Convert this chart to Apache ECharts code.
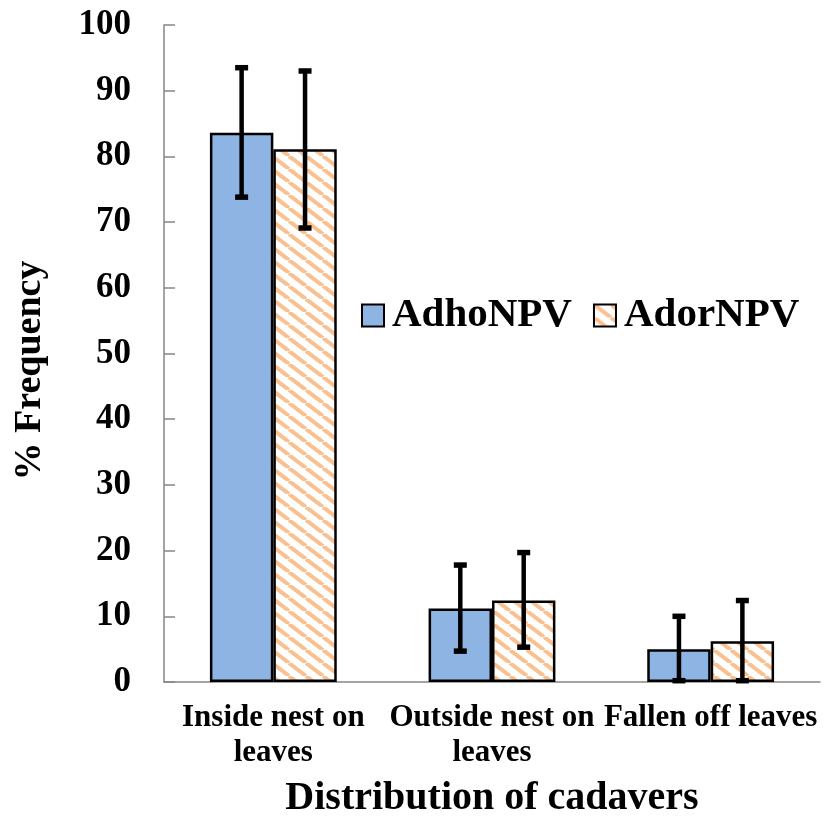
<!DOCTYPE html>
<html>
<head>
<meta charset="utf-8">
<script src="https://cdn.jsdelivr.net/npm/echarts@6/dist/echarts.min.js"></script>
<style>
  html, body { margin: 0; padding: 0; background: #fff; }
  #chart { width: 831px; height: 820px; }
</style>
</head>
<body>
<div id="chart"></div>
<script>
// 数据
var categories = ['Inside nest on\nleaves', 'Outside nest on\nleaves', 'Fallen off leaves'];
var adhoValues = [83.6, 11.2, 5.0];
var adhoLow = [73.8, 4.7, 0.2];
var adhoHigh = [93.5, 17.8, 10.0];
var adorValues = [81.1, 12.4, 6.2];
var adorLow = [69.1, 5.3, 0.2];
var adorHigh = [93.0, 19.7, 12.4];

var FONT = 'Liberation Serif';
var GAP = 0.42;

// 斜线填充
function makeHatch() {
  var c = document.createElement('canvas');
  var w = 17, h = 13;
  c.width = w; c.height = h;
  var ctx = c.getContext('2d');
  ctx.fillStyle = '#ffffff';
  ctx.fillRect(0, 0, w, h);
  ctx.strokeStyle = '#FAC090';
  ctx.lineWidth = 4;
  for (var k = -w; k <= w; k += w) {
    ctx.beginPath();
    ctx.moveTo(k, 0);
    ctx.lineTo(k + w, h);
    ctx.stroke();
  }
  return c;
}

function errData(low, high) {
  return low.map(function (v, i) { return [i, v, high[i]]; });
}

function errRender(side) {
  return function (params, api) {
    var band = api.size([1, 0])[0];
    var barW = band * (1 - GAP) / 2;
    var x = api.coord([api.value(0), 0])[0] + side * barW / 2;
    var lo = api.coord([api.value(0), api.value(1)])[1];
    var hi = api.coord([api.value(0), api.value(2)])[1];
    var cap = 6.5;
    var st = { stroke: '#000', lineWidth: 4.5 };
    return {
      type: 'group',
      children: [
        { type: 'line', shape: { x1: x, y1: lo, x2: x, y2: hi }, style: st },
        { type: 'line', shape: { x1: x - cap, y1: lo, x2: x + cap, y2: lo }, style: { stroke: '#000', lineWidth: 5.5 } },
        { type: 'line', shape: { x1: x - cap, y1: hi, x2: x + cap, y2: hi }, style: { stroke: '#000', lineWidth: 5.5 } }
      ]
    };
  };
}

var chart = echarts.init(document.getElementById('chart'), null, { renderer: 'canvas' });

var option = {
  backgroundColor: '#ffffff',
  animation: false,
  textStyle: { fontFamily: FONT },
  grid: { left: 164, right: 11, top: 25, bottom: 138, outerBoundsMode: 'none' },
  legend: {
    left: 356,
    top: 290,
    icon: 'rect',
    itemWidth: 22,
    itemHeight: 22,
    itemGap: 21,
    textStyle: { fontFamily: FONT, fontWeight: 'bold', fontSize: 41, color: '#000', padding: [0, 0, 0, 3] },
    data: ['AdhoNPV', 'AdorNPV']
  },
  xAxis: {
    type: 'category',
    data: categories,
    name: 'Distribution of cadavers',
    nameLocation: 'middle',
    nameGap: 97,
    nameMoveOverlap: false,
    nameTextStyle: { fontFamily: FONT, fontWeight: 'bold', fontSize: 40, color: '#000' },
    axisLine: { lineStyle: { color: '#868686', width: 1.5 } },
    axisTick: { inside: true, length: 9, lineStyle: { color: '#868686', width: 1.5 } },
    axisLabel: {
      fontFamily: FONT, fontWeight: 'bold', fontSize: 31, color: '#000',
      lineHeight: 35, margin: 18, interval: 0
    }
  },
  yAxis: {
    type: 'value',
    min: 0,
    max: 100,
    interval: 10,
    name: '% Frequency',
    nameLocation: 'middle',
    nameGap: 115,
    nameMoveOverlap: false,
    nameTextStyle: { fontFamily: FONT, fontWeight: 'bold', fontSize: 38, color: '#000', padding: [0, 34, 0, 0] },
    splitLine: { show: false },
    axisLine: { show: true, lineStyle: { color: '#868686', width: 1.5 } },
    axisTick: { show: true, inside: true, length: 11, lineStyle: { color: '#868686', width: 1.5 } },
    axisLabel: { fontFamily: FONT, fontWeight: 'bold', fontSize: 35, color: '#000', margin: 33 }
  },
  series: [
    {
      name: 'AdhoNPV',
      type: 'bar',
      data: adhoValues,
      barGap: '0%',
      barCategoryGap: (GAP * 100) + '%',
      itemStyle: { color: '#8EB4E3', borderColor: '#000', borderWidth: 2.5 }
    },
    {
      name: 'AdorNPV',
      type: 'bar',
      data: adorValues,
      itemStyle: { color: { image: makeHatch(), repeat: 'repeat' }, borderColor: '#000', borderWidth: 2.5 }
    },
    {
      type: 'custom',
      data: errData(adhoLow, adhoHigh),
      renderItem: errRender(-1),
      z: 10,
      silent: true
    },
    {
      type: 'custom',
      data: errData(adorLow, adorHigh),
      renderItem: errRender(1),
      z: 10,
      silent: true
    }
  ]
};

chart.setOption(option);
</script>
</body>
</html>
